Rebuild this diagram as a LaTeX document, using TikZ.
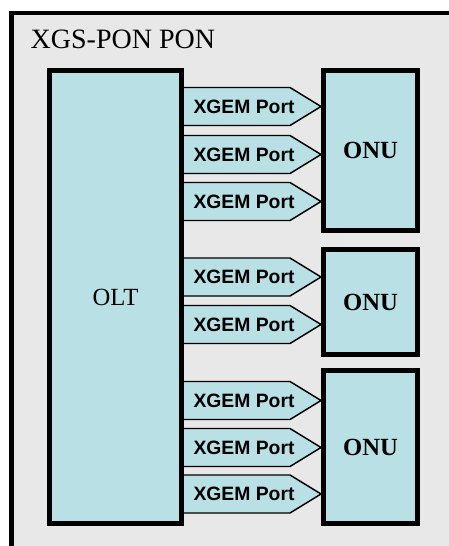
\documentclass[tikz,border=0pt]{standalone}
\usepackage{fontspec}
\setmainfont{Liberation Serif}
\newfontfamily\portfont{Liberation Sans}
\usetikzlibrary{positioning}
\definecolor{PONcyan}{RGB}{185,224,228}
\definecolor{PONgray}{RGB}{232,232,232}

\begin{document}
\begin{tikzpicture}[x=0.75pt, y=-0.75pt,
        unit/.style={draw, line width=3.75pt, fill=PONcyan, inner sep=0pt, minimum width=70.5pt, font=\fontsize{18.5}{22}\selectfont\bfseries},
        port/.style={draw, line width=1.1pt, fill=PONcyan},
        portlabel/.style={inner sep=0pt, font=\portfont\bfseries\fontsize{14.5}{17}\selectfont}
    ]
    \useasboundingbox (0,0) rectangle (449,546);
    \fill[PONgray] (11.5,13) rectangle (449,546);
    \draw[line width=3.4pt] (11.5,546) -- (11.5,13) -- (449,13);
    \node (title) [anchor=base west, font=\fontsize{21}{25}\selectfont] at (26,48) {XGS-PON PON};

    \foreach \y/\k in {106.5/1, 154.5/2, 201.5/3, 277/4, 324.5/5, 400.5/6, 447.5/7, 494/8} {
        \draw [port] (184,\y-19) -- (290,\y-19) -- (321,\y) -- (290,\y+19) -- (184,\y+19);
        \node (port\k) [portlabel] at (244,\y) {XGEM Port};
    }

    \node (olt) [unit, minimum width=99pt, minimum height=339.75pt, font=\fontsize{18.5}{22}\selectfont] at (115.5,297) {OLT};
    \node (onu1) [unit, minimum height=120pt] at (370.5,150.5) {ONU};
    \node (onu2) [unit, minimum height=78.75pt] at (370.5,302) {ONU};
    \node (onu3) [unit, minimum height=114.75pt] at (370.5,447) {ONU};
\end{tikzpicture}
\end{document}
